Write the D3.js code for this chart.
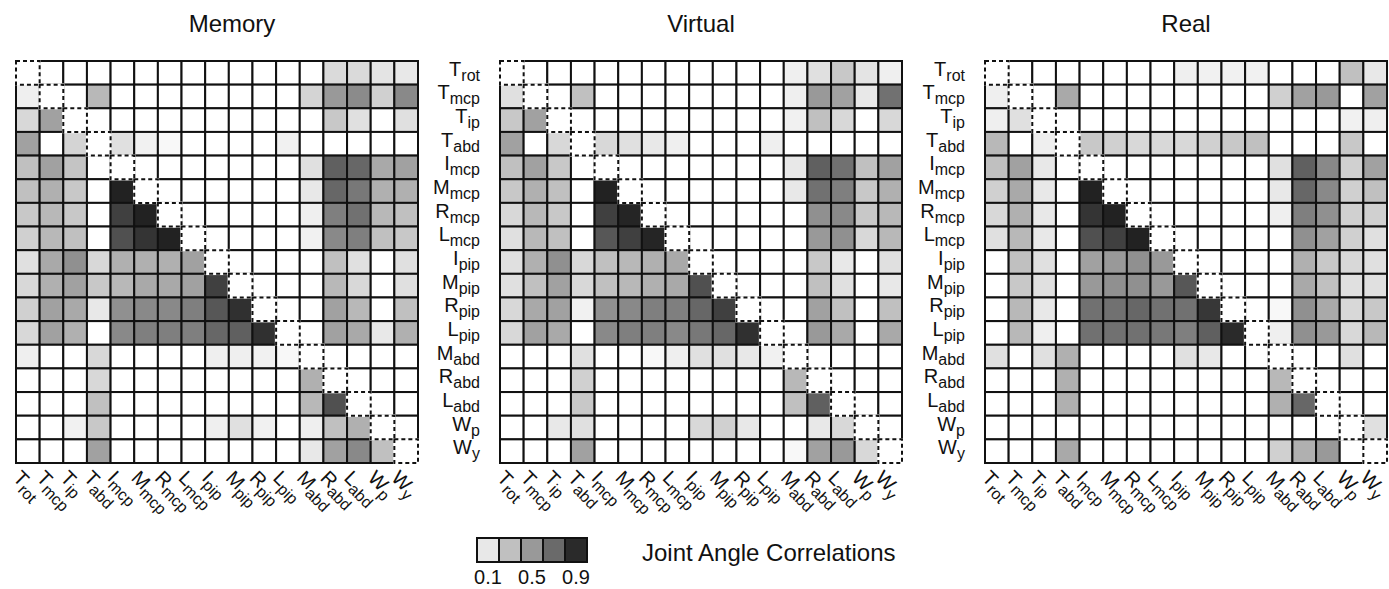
<!DOCTYPE html>
<html>
<head>
<meta charset="utf-8">
<script src="https://cdn.jsdelivr.net/npm/d3@7"></script>
<style>
  body { margin: 0; background: #fff; }
  svg { display: block; font-family: "Liberation Sans", Arial, Helvetica, sans-serif; }
</style>
</head>
<body>
<div id="chart"></div>
<script>
// joint names: base letter + subscript
var baseLabels = ["T", "T", "T", "T", "I", "M", "R", "L", "I", "M", "R", "L", "M", "R", "L", "W", "W"];
var subLabels = ["rot", "mcp", "ip", "abd", "mcp", "mcp", "mcp", "mcp", "pip", "pip", "pip", "pip", "abd", "abd", "abd", "p", "y"];

var panelTitles = ["Memory", "Virtual", "Real"];

// |r| between joint angles, row = joint, col = joint (diagonal left empty)
var memory = [
  [null, 0, 0, 0, 0, 0, 0, 0, 0, 0, 0, 0, 0, 0.17, 0.17, 0.12, 0.1],
  [0.07, null, 0, 0.34, 0, 0, 0, 0, 0, 0, 0, 0, 0.2, 0.5, 0.56, 0.22, 0.57],
  [0.18, 0.46, null, 0, 0, 0, 0, 0, 0, 0, 0, 0, 0, 0.26, 0.14, 0, 0.14],
  [0.46, 0, 0.2, null, 0.14, 0.06, 0.03, 0, 0, 0, 0, 0.06, 0, 0, 0, 0, 0],
  [0.3, 0.46, 0.28, 0, null, 0, 0, 0, 0, 0, 0, 0, 0.14, 0.73, 0.71, 0.42, 0.46],
  [0.3, 0.38, 0.26, 0, 0.93, null, 0, 0, 0, 0, 0, 0, 0.1, 0.71, 0.64, 0.38, 0.38],
  [0.26, 0.34, 0.26, 0, 0.83, 0.93, null, 0, 0, 0, 0, 0, 0.07, 0.61, 0.67, 0.34, 0.3],
  [0.22, 0.34, 0.3, 0, 0.78, 0.87, 0.93, null, 0, 0, 0, 0, 0.06, 0.57, 0.61, 0.3, 0.26],
  [0.14, 0.42, 0.54, 0.18, 0.38, 0.38, 0.38, 0.46, null, 0, 0, 0, 0, 0.3, 0.14, 0, 0.14],
  [0.18, 0.38, 0.46, 0.26, 0.34, 0.42, 0.42, 0.46, 0.83, null, 0, 0, 0, 0.34, 0.18, 0, 0.14],
  [0.22, 0.46, 0.42, 0.1, 0.54, 0.57, 0.57, 0.61, 0.76, 0.88, null, 0, 0, 0.46, 0.34, 0, 0.3],
  [0.18, 0.46, 0.38, 0, 0.57, 0.61, 0.61, 0.61, 0.71, 0.73, 0.88, null, 0, 0.46, 0.42, 0.1, 0.38],
  [0.07, 0, 0, 0.18, 0, 0, 0, 0, 0.07, 0.07, 0.06, 0.03, null, 0, 0, 0, 0],
  [0, 0, 0, 0.18, 0, 0, 0, 0, 0, 0, 0, 0, 0.38, null, 0, 0, 0],
  [0, 0, 0, 0.3, 0, 0, 0, 0, 0, 0, 0, 0, 0.34, 0.78, null, 0, 0],
  [0, 0, 0.06, 0.26, 0, 0, 0, 0, 0.07, 0.14, 0.06, 0, 0.07, 0.3, 0.38, null, 0],
  [0, 0, 0, 0.46, 0, 0, 0, 0, 0, 0, 0, 0, 0.1, 0.46, 0.57, 0.3, null]
];

var virtual = [
  [null, 0, 0, 0, 0, 0, 0, 0, 0, 0, 0, 0, 0.07, 0.14, 0.26, 0.12, 0.07],
  [0.14, null, 0, 0.3, 0, 0, 0, 0, 0, 0, 0, 0, 0.07, 0.5, 0.46, 0.1, 0.67],
  [0.26, 0.46, null, 0, 0, 0, 0, 0, 0, 0, 0, 0, 0.06, 0.3, 0.18, 0, 0.18],
  [0.46, 0, 0.18, null, 0.18, 0.14, 0.1, 0.07, 0, 0, 0, 0.07, 0, 0, 0, 0, 0],
  [0.3, 0.46, 0.26, 0, null, 0, 0, 0, 0, 0, 0, 0, 0.1, 0.73, 0.67, 0.3, 0.46],
  [0.26, 0.38, 0.3, 0, 0.93, null, 0, 0, 0, 0, 0, 0, 0.1, 0.67, 0.61, 0.26, 0.38],
  [0.18, 0.34, 0.26, 0, 0.83, 0.92, null, 0, 0, 0, 0, 0, 0, 0.54, 0.57, 0.26, 0.34],
  [0.14, 0.34, 0.3, 0, 0.76, 0.83, 0.92, null, 0, 0, 0, 0, 0, 0.5, 0.54, 0.18, 0.34],
  [0.14, 0.38, 0.54, 0.18, 0.3, 0.34, 0.38, 0.42, null, 0, 0, 0, 0, 0.26, 0.1, 0, 0.14],
  [0.14, 0.3, 0.46, 0.18, 0.3, 0.34, 0.38, 0.42, 0.78, null, 0, 0, 0, 0.3, 0.14, 0, 0.1],
  [0.18, 0.42, 0.46, 0.06, 0.54, 0.57, 0.61, 0.61, 0.71, 0.83, null, 0, 0, 0.46, 0.3, 0, 0.3],
  [0.18, 0.46, 0.42, 0, 0.57, 0.61, 0.61, 0.57, 0.64, 0.71, 0.88, null, 0, 0.5, 0.42, 0, 0.42],
  [0, 0, 0, 0.14, 0, 0, 0.03, 0.07, 0.14, 0.14, 0.1, 0.06, null, 0, 0, 0, 0],
  [0, 0, 0, 0.22, 0, 0, 0, 0, 0, 0, 0, 0, 0.34, null, 0, 0, 0],
  [0, 0, 0, 0.26, 0, 0, 0, 0, 0, 0, 0, 0, 0.3, 0.73, null, 0, 0],
  [0, 0, 0.1, 0.14, 0, 0, 0, 0, 0.18, 0.22, 0.1, 0, 0, 0.1, 0.18, null, 0],
  [0, 0, 0, 0.46, 0, 0, 0, 0, 0, 0, 0, 0, 0.03, 0.46, 0.5, 0.18, null]
];

var real = [
  [null, 0, 0, 0, 0, 0, 0, 0, 0.07, 0.06, 0.06, 0.06, 0, 0, 0, 0.3, 0.1],
  [0.07, null, 0, 0.42, 0, 0, 0, 0, 0, 0, 0, 0, 0.22, 0.46, 0.5, 0, 0.46],
  [0.07, 0.14, null, 0, 0, 0, 0, 0, 0, 0, 0, 0, 0, 0, 0, 0.06, 0.07],
  [0.34, 0, 0.07, null, 0.26, 0.22, 0.18, 0.18, 0.18, 0.22, 0.26, 0.3, 0, 0, 0, 0.26, 0],
  [0.3, 0.46, 0.1, 0, null, 0, 0, 0, 0, 0, 0, 0, 0.14, 0.73, 0.57, 0.22, 0.46],
  [0.22, 0.42, 0.1, 0, 0.93, null, 0, 0, 0, 0, 0, 0, 0.1, 0.71, 0.57, 0.22, 0.3],
  [0.18, 0.38, 0.1, 0, 0.87, 0.93, null, 0, 0, 0, 0, 0, 0.07, 0.61, 0.54, 0.22, 0.22],
  [0.14, 0.34, 0.1, 0, 0.78, 0.83, 0.93, null, 0, 0, 0, 0, 0, 0.54, 0.46, 0.22, 0.14],
  [0, 0.3, 0.14, 0, 0.46, 0.5, 0.54, 0.5, null, 0, 0, 0, 0, 0.38, 0.26, 0.18, 0.14],
  [0, 0.26, 0.14, 0, 0.5, 0.54, 0.54, 0.5, 0.76, null, 0, 0, 0, 0.42, 0.3, 0.14, 0.14],
  [0, 0.34, 0.1, 0, 0.67, 0.67, 0.71, 0.67, 0.67, 0.86, null, 0, 0.03, 0.54, 0.42, 0.18, 0.26],
  [0, 0.34, 0.07, 0, 0.67, 0.67, 0.67, 0.64, 0.61, 0.73, 0.9, null, 0.07, 0.54, 0.5, 0.18, 0.34],
  [0.14, 0, 0.14, 0.38, 0, 0, 0, 0, 0.14, 0.1, 0, 0, null, 0, 0, 0.14, 0],
  [0, 0, 0, 0.38, 0, 0, 0, 0, 0, 0, 0, 0, 0.34, null, 0, 0, 0],
  [0, 0, 0, 0.38, 0, 0, 0, 0, 0, 0, 0, 0, 0.38, 0.71, null, 0, 0],
  [0, 0, 0, 0, 0, 0, 0, 0, 0, 0, 0, 0, 0, 0, 0, null, 0.14],
  [0, 0, 0, 0.42, 0, 0, 0, 0, 0, 0, 0, 0, 0.22, 0.38, 0.5, 0, null]
];

var legendValues = [0.1, 0.3, 0.5, 0.7, 0.9];
var legendTicks = [0.1, 0.5, 0.9];
var legendTitle = "Joint Angle Correlations";

var svgW = 1389, svgH = 589;
var size = 402;               // matrix side
var gridTop = 61;
var lefts = [16, 500, 985];
var titleShift = [15, 0, 0];

var grey = d3.scaleLinear()
  .domain([0, 0.1, 0.3, 0.5, 0.7, 0.9, 1])
  .range(["#ffffff", "#e8e8e8", "#c0c0c0", "#999999", "#6a6a6a", "#2a2a2a", "#111111"])
  .clamp(true);

var svg = d3.select("#chart").append("svg")
  .attr("width", svgW)
  .attr("height", svgH);

svg.append("rect").attr("width", svgW).attr("height", svgH).attr("fill", "#fff");

var idx = d3.range(baseLabels.length);
var band = d3.scaleBand().domain(idx).range([0, size]);

function addLabel(text, i) {
  text.append("tspan").attr("font-size", 20).text(baseLabels[i]);
  text.append("tspan").attr("font-size", 16).attr("dy", 5).text(subLabels[i]);
}

[memory, virtual, real].forEach(function (mat, p) {
  var g = svg.append("g").attr("transform", "translate(" + lefts[p] + "," + gridTop + ")");

  var cells = [];
  mat.forEach(function (row, r) {
    row.forEach(function (v, c) { cells.push({ r: r, c: c, v: v }); });
  });

  // ordinary cells
  g.selectAll("rect.cell")
    .data(cells.filter(d => d.r !== d.c))
    .enter().append("rect")
    .attr("class", "cell")
    .attr("x", d => band(d.c))
    .attr("y", d => band(d.r))
    .attr("width", band.bandwidth())
    .attr("height", band.bandwidth())
    .attr("fill", d => grey(d.v))
    .attr("stroke", "#111")
    .attr("stroke-width", 2);

  // diagonal cells: white with dashed frame
  var diag = cells.filter(d => d.r === d.c);
  g.selectAll("rect.diagw")
    .data(diag)
    .enter().append("rect")
    .attr("x", d => band(d.c))
    .attr("y", d => band(d.r))
    .attr("width", band.bandwidth())
    .attr("height", band.bandwidth())
    .attr("fill", "#fff")
    .attr("stroke", "#fff")
    .attr("stroke-width", 2.5);
  g.selectAll("rect.diag")
    .data(diag)
    .enter().append("rect")
    .attr("x", d => band(d.c))
    .attr("y", d => band(d.r))
    .attr("width", band.bandwidth())
    .attr("height", band.bandwidth())
    .attr("fill", "none")
    .attr("stroke", "#111")
    .attr("stroke-width", 2)
    .attr("stroke-dasharray", "4,3");

  // title
  svg.append("text")
    .attr("x", lefts[p] + size / 2 + titleShift[p])
    .attr("y", 32)
    .attr("text-anchor", "middle")
    .attr("font-size", 24)
    .attr("fill", "#111")
    .text(panelTitles[p]);

  // column labels, slanted
  g.selectAll("text.col")
    .data(idx)
    .enter().append("text")
    .attr("class", "col")
    .attr("fill", "#111")
    .attr("transform", i => "translate(" + (band(i) + band.bandwidth() / 2 - 6) + "," + (size + 6) + ") rotate(45)")
    .attr("dy", 14)
    .each(function (i) { addLabel(d3.select(this), i); });

  // row labels on the left (not for the first panel)
  if (p > 0) {
    g.selectAll("text.row")
      .data(idx)
      .enter().append("text")
      .attr("class", "row")
      .attr("fill", "#111")
      .attr("text-anchor", "end")
      .attr("x", -20)
      .attr("y", i => band(i) + band.bandwidth() / 2 + 3)
      .each(function (i) { addLabel(d3.select(this), i); });
  }
});

// legend
var lx = 477, ly = 538, lw = 22, lh = 24;
var lscale = d3.scaleBand().domain(legendValues).range([lx, lx + lw * legendValues.length]);
var leg = svg.append("g");
leg.selectAll("rect")
  .data(legendValues)
  .enter().append("rect")
  .attr("x", d => lscale(d))
  .attr("y", ly)
  .attr("width", lscale.bandwidth())
  .attr("height", lh)
  .attr("fill", d => grey(d))
  .attr("stroke", "#111")
  .attr("stroke-width", 2);
leg.selectAll("text")
  .data(legendTicks)
  .enter().append("text")
  .attr("x", d => lscale(d) + lscale.bandwidth() / 2)
  .attr("y", 584)
  .attr("text-anchor", "middle")
  .attr("font-size", 20)
  .attr("fill", "#111")
  .text(d => d3.format(".1f")(d));
svg.append("text")
  .attr("x", 642)
  .attr("y", 561)
  .attr("font-size", 24)
  .attr("fill", "#111")
  .text(legendTitle);
</script>
</body>
</html>
